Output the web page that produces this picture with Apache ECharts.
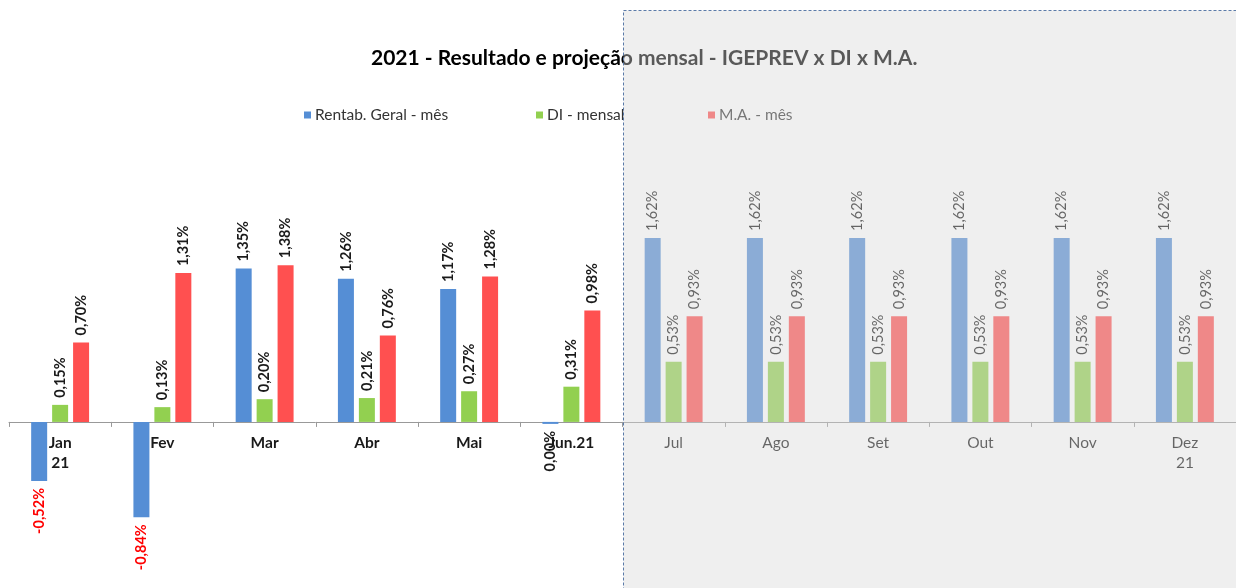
<!DOCTYPE html>
<html>
<head>
<meta charset="utf-8">
<script src="https://cdn.jsdelivr.net/npm/echarts@6/dist/echarts.min.js"></script>
<style>
html,body{margin:0;padding:0;background:#fff;}
#c{width:1236px;height:588px;}
</style>
</head>
<body>
<div id="c"></div>
<script>
const categories = ['Jan\n21','Fev','Mar','Abr','Mai','Jun.21','Jul','Ago','Set','Out','Nov','Dez\n21'];
const rentab = [-0.52, -0.84, 1.35, 1.26, 1.17, -0.004, 1.62, 1.62, 1.62, 1.62, 1.62, 1.62];
const di     = [0.15, 0.13, 0.20, 0.21, 0.27, 0.31, 0.53, 0.53, 0.53, 0.53, 0.53, 0.53];
const ma     = [0.70, 1.31, 1.38, 0.76, 1.28, 0.98, 0.93, 0.93, 0.93, 0.93, 0.93, 0.93];
const seriesNames = ['Rentab. Geral - mês', 'DI - mensal', 'M.A. - mês'];
const colors = ['#558ED5', '#92D050', '#FF5050'];
const projStart = 6; // Jul onward is projection

const FONT = 'Lato, "Noto Sans", sans-serif';

function fmt(v){
  let s = v.toFixed(2).replace('.', ',');
  if (s === '-0,00') s = '0,00';
  return s + '%';
}
function build(arr){
  return arr.map((v, i) => {
    const txt = fmt(v);
    const neg = txt.charAt(0) === '-';
    return {
      value: v,
      label: {
        show: true,
        position: v < 0 ? 'bottom' : 'top',
        align: v < 0 ? 'right' : 'left',
        verticalAlign: 'middle',
        rotate: 90,
        distance: 7,
        fontFamily: FONT,
        fontSize: 14.5,
        fontWeight: i < projStart ? 'bold' : 'normal',
        color: neg ? '#FF0000' : (i < projStart ? '#1a1a1a' : '#151515'),
        formatter: txt
      }
    };
  });
}

const chart = echarts.init(document.getElementById('c'), null, {renderer: 'canvas'});
const legendLefts = [304, 536, 708];

const option = {
  animation: false,
  backgroundColor: '#ffffff',
  title: {
    text: '2021 - Resultado e projeção mensal - IGEPREV x DI x M.A.',
    left: 371, top: 48,
    padding: 0,
    textStyle: {fontFamily: FONT, fontSize: 21, fontWeight: 'bold', color: '#000'}
  },
  legend: seriesNames.map((n, k) => ({
    data: [n],
    left: legendLefts[k], top: 107,
    padding: 0,
    icon: 'rect', itemWidth: 7, itemHeight: 7, itemGap: 5,
    textStyle: {fontFamily: FONT, fontSize: 15.5, color: '#333333', padding: [0,0,0,-1]}
  })),
  grid: [
    {left: 9, top: 172, width: 1227, height: 363.5, containLabel: false},
    {left: 9, top: 0, width: 1227, height: 422, containLabel: false}
  ],
  xAxis: [
    {
      type: 'category',
      gridIndex: 0,
      data: categories,
      axisLine: {onZero: true, lineStyle: {color: '#999999', width: 1}},
      axisTick: {show: true, length: 5, lineStyle: {color: '#999999'}},
      axisLabel: {show: false}
    },
    {
      type: 'category',
      gridIndex: 1,
      position: 'bottom',
      data: categories,
      axisLine: {show: false},
      axisTick: {show: false},
      axisLabel: {
        margin: 11,
        interval: 0,
        formatter: function(value, index){
          const tag = index < projStart ? 'b' : 'n';
          return value.split('\n').map(l => '{' + tag + '|' + l + '}').join('\n');
        },
        rich: {
          b: {fontFamily: FONT, fontSize: 15.5, fontWeight: 'bold', color: '#1a1a1a', lineHeight: 20},
          n: {fontFamily: FONT, fontSize: 15.5, fontWeight: 'normal', color: '#151515', lineHeight: 20}
        }
      }
    }
  ],
  yAxis: [
    {type: 'value', gridIndex: 0, min: -1, max: 2.2, show: false, splitLine: {show: false}},
    {type: 'value', gridIndex: 1, min: 0, max: 1, show: false, splitLine: {show: false}}
  ],
  series: [
    {name: seriesNames[0], type: 'bar', data: build(rentab), itemStyle: {color: colors[0]}, barWidth: 16, barGap: '31%', barMinHeight: 2},
    {name: seriesNames[1], type: 'bar', data: build(di), itemStyle: {color: colors[1]}, barWidth: 16, barGap: '31%'},
    {name: seriesNames[2], type: 'bar', data: build(ma), itemStyle: {color: colors[2]}, barWidth: 16, barGap: '31%'}
  ],
  graphic: [
    {
      type: 'rect',
      z: 100,
      silent: true,
      shape: {x: 623.5, y: 10.5, width: 640, height: 600},
      style: {fill: 'rgba(216,216,216,0.41)', stroke: '#5b7aa8', lineWidth: 1, lineDash: [3, 2]}
    }
  ]
};
chart.setOption(option);
</script>
</body>
</html>
